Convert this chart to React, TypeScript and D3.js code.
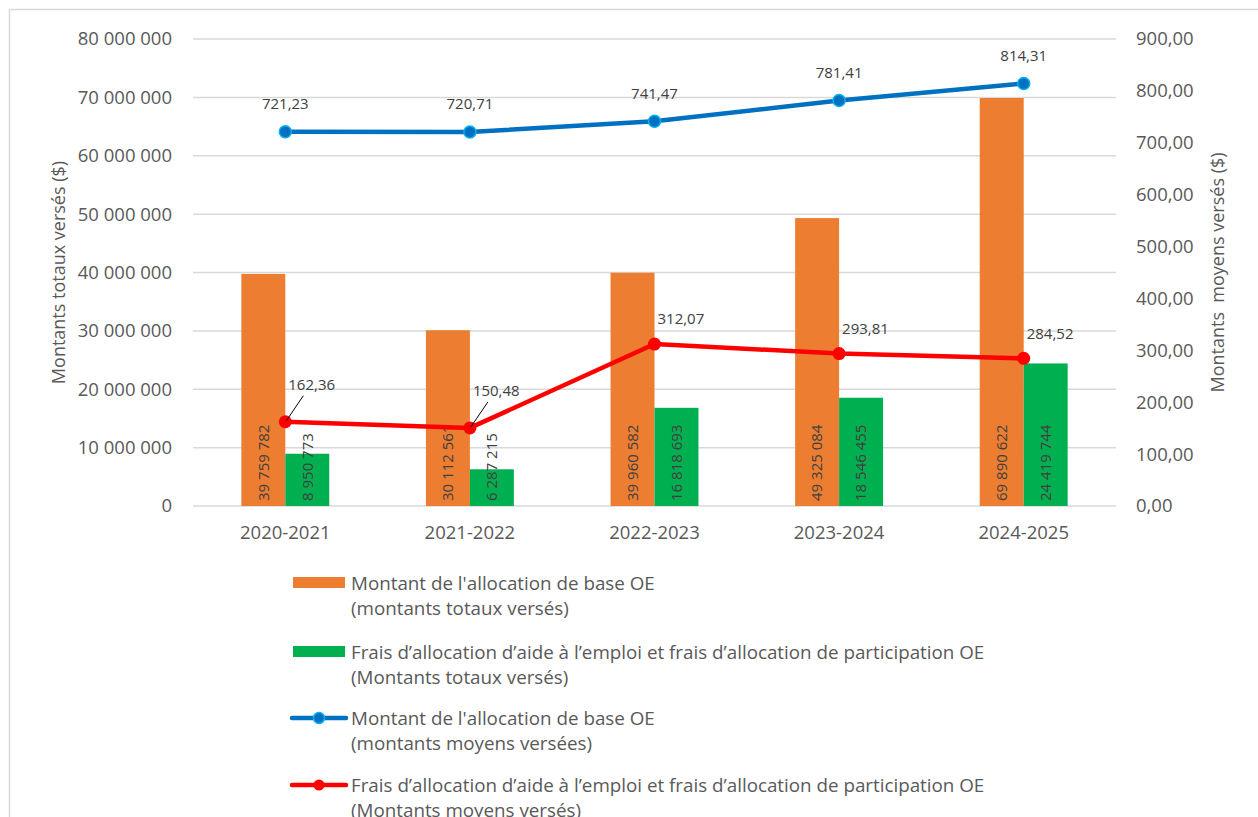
import React, { useEffect, useRef } from 'react';
import * as d3 from 'd3';

const years = ['2020-2021', '2021-2022', '2022-2023', '2023-2024', '2024-2025'];
const baseTotals = [39759782, 30112561, 39960582, 49325084, 69890622];
const fraisTotals = [8950773, 6287215, 16818693, 18546455, 24419744];
const baseMoyens = [721.23, 720.71, 741.47, 781.41, 814.31];
const fraisMoyens = [162.36, 150.48, 312.07, 293.81, 284.52];
const leftTicks = [0, 10e6, 20e6, 30e6, 40e6, 50e6, 60e6, 70e6, 80e6];
const rightTicks = [0, 100, 200, 300, 400, 500, 600, 700, 800, 900];
// labels for the first two red points sit higher, with a leader line
const redLabelLift = [37, 37, 25, 25, 25];

const legendItems = [
    { kind: 'bar', color: '#ed7d31', lines: ["Montant de l'allocation de base OE", '(montants totaux versés)'] },
    { kind: 'bar', color: '#00b050', lines: ['Frais d’allocation d’aide à l’emploi et frais d’allocation de participation OE', '(Montants totaux versés)'] },
    { kind: 'blue', color: '#0070c0', lines: ["Montant de l'allocation de base OE", '(montants moyens versées)'] },
    { kind: 'red', color: '#ff0000', lines: ['Frais d’allocation d’aide à l’emploi et frais d’allocation de participation OE', '(Montants moyens versés)'] },
];

const locale = d3.formatLocale({ decimal: ',', thousands: ' ', grouping: [3], currency: ['', '$'] });
const fmtInt = locale.format(',d');
const fmtDec = locale.format(',.2f');

const FONT = '"Open Sans", Lato, sans-serif';
const GREY = '#595959';
const LABEL = '#404040';
const FS = 18.5;   // axis + legend text
const FL = 15;     // data labels

const App = () => {
    const ref = useRef(null);
    const width = 1258, height = 817;
    const left = 193, right = 1116, top = 39, bottom = 506;

    useEffect(() => {
        const svg = d3.select(ref.current);
        svg.selectAll('*').remove();

        const x = d3.scaleBand().domain(years).range([left, right]);
        const xs = d3.scaleBand().domain(['base', 'frais']).range([0, x.bandwidth()]).paddingOuter(1.1);
        const yL = d3.scaleLinear().domain([0, 80e6]).range([bottom, top]);
        const yR = d3.scaleLinear().domain([0, 900]).range([bottom, top]);
        const cx = d => x(d) + x.bandwidth() / 2;

        // chart frame
        svg.append('rect').attr('x', 9.5).attr('y', 9.5).attr('width', width + 10).attr('height', height + 10)
            .attr('fill', '#fff').attr('stroke', '#d9d9d9').attr('stroke-width', 1.5);

        // grid
        svg.append('g').selectAll('line').data(leftTicks).join('line')
            .attr('x1', left).attr('x2', right)
            .attr('y1', d => yL(d)).attr('y2', d => yL(d))
            .attr('stroke', '#d9d9d9').attr('stroke-width', 1.5);

        // left ticks
        svg.append('g').selectAll('text').data(leftTicks).join('text')
            .attr('x', 172).attr('y', d => yL(d)).attr('dy', '0.35em')
            .attr('text-anchor', 'end').attr('font-size', FS).attr('font-family', FONT).attr('fill', GREY)
            .text(d => fmtInt(d));

        // right ticks
        svg.append('g').selectAll('text').data(rightTicks).join('text')
            .attr('x', 1136).attr('y', d => yR(d)).attr('dy', '0.35em')
            .attr('font-size', FS).attr('font-family', FONT).attr('fill', GREY)
            .text(d => fmtDec(d));

        // category labels
        svg.append('g').selectAll('text').data(years).join('text')
            .attr('x', d => cx(d)).attr('y', 533).attr('dy', '0.35em')
            .attr('text-anchor', 'middle').attr('font-size', FS).attr('font-family', FONT).attr('fill', GREY)
            .text(d => d);

        // axis titles
        svg.append('text')
            .attr('transform', `translate(59 ${(top + bottom) / 2}) rotate(-90)`)
            .attr('text-anchor', 'middle').attr('dy', '0.35em')
            .attr('font-size', 18).attr('font-family', FONT).attr('fill', GREY)
            .text('Montants totaux versés ($)');
        svg.append('text')
            .attr('transform', `translate(1218 ${(top + bottom) / 2}) rotate(-90)`)
            .attr('text-anchor', 'middle').attr('dy', '0.35em')
            .attr('font-size', 18).attr('font-family', FONT).attr('fill', GREY)
            .style('white-space', 'pre')
            .text('Montants  moyens versés ($)');

        // bars
        const series = [
            { key: 'base', values: baseTotals, color: '#ed7d31' },
            { key: 'frais', values: fraisTotals, color: '#00b050' },
        ];
        series.forEach(s => {
            const g = svg.append('g');
            g.selectAll('rect').data(s.values).join('rect')
                .attr('x', (d, i) => x(years[i]) + xs(s.key))
                .attr('y', d => yL(d))
                .attr('width', xs.bandwidth())
                .attr('height', d => bottom - yL(d))
                .attr('fill', s.color);
            g.selectAll('text').data(s.values).join('text')
                .attr('transform', (d, i) => `translate(${x(years[i]) + xs(s.key) + xs.bandwidth() / 2} ${bottom - 5}) rotate(-90)`)
                .attr('dy', '0.35em')
                .attr('font-size', FL).attr('font-family', FONT).attr('fill', LABEL)
                .text(d => fmtInt(d));
        });

        // lines
        const line = d3.line().x((d, i) => cx(years[i])).y(d => yR(d));
        svg.append('path').attr('d', line(baseMoyens)).attr('fill', 'none')
            .attr('stroke', '#0070c0').attr('stroke-width', 4.5).attr('stroke-linejoin', 'round');
        svg.append('g').selectAll('circle').data(baseMoyens).join('circle')
            .attr('cx', (d, i) => cx(years[i])).attr('cy', d => yR(d)).attr('r', 6)
            .attr('fill', '#0070c0').attr('stroke', '#00b0f0').attr('stroke-width', 1.5);
        svg.append('g').selectAll('text').data(baseMoyens).join('text')
            .attr('x', (d, i) => cx(years[i])).attr('y', d => yR(d) - 28).attr('dy', '0.35em')
            .attr('text-anchor', 'middle').attr('font-size', FL).attr('font-family', FONT).attr('fill', LABEL)
            .text(d => fmtDec(d));

        svg.append('path').attr('d', line(fraisMoyens)).attr('fill', 'none')
            .attr('stroke', '#ff0000').attr('stroke-width', 4.5).attr('stroke-linejoin', 'round');
        svg.append('g').selectAll('circle').data(fraisMoyens).join('circle')
            .attr('cx', (d, i) => cx(years[i])).attr('cy', d => yR(d)).attr('r', 6.5)
            .attr('fill', '#ff0000');
        // leader lines
        svg.append('g').selectAll('line').data(fraisMoyens.filter((d, i) => redLabelLift[i] > 30)).join('line')
            .attr('x1', (d, i) => cx(years[i]) + 1).attr('y1', d => yR(d) - 1)
            .attr('x2', (d, i) => cx(years[i]) + 18).attr('y2', d => yR(d) - 26)
            .attr('stroke', '#000').attr('stroke-width', 1);
        svg.append('g').selectAll('text').data(fraisMoyens).join('text')
            .attr('x', (d, i) => cx(years[i]) + 3).attr('y', (d, i) => yR(d) - redLabelLift[i]).attr('dy', '0.35em')
            .attr('font-size', FL).attr('font-family', FONT).attr('fill', LABEL)
            .text(d => fmtDec(d));

        // legend
        const lg = svg.append('g');
        const rowY = [583, 652, 718, 785];
        legendItems.forEach((item, i) => {
            const y = rowY[i];
            if (item.kind === 'bar') {
                lg.append('rect').attr('x', 293).attr('y', y - 6).attr('width', 52).attr('height', 11).attr('fill', item.color);
            } else {
                lg.append('line').attr('x1', 292).attr('x2', 346).attr('y1', y).attr('y2', y)
                    .attr('stroke', item.color).attr('stroke-width', 4.5).attr('stroke-linecap', 'round');
                lg.append('circle').attr('cx', 319).attr('cy', y).attr('r', 5.5)
                    .attr('fill', item.kind === 'blue' ? '#0070c0' : '#ff0000')
                    .attr('stroke', item.kind === 'blue' ? '#00b0f0' : 'none').attr('stroke-width', 1.5);
            }
            item.lines.forEach((t, j) => {
                lg.append('text').attr('x', 351).attr('y', y + j * 25).attr('dy', '0.35em')
                    .attr('font-size', 18.8).attr('font-family', FONT).attr('fill', GREY)
                    .text(t);
            });
        });
    }, []);

    return (
        <svg ref={ref} width={width} height={height}
            style={{ position: 'absolute', left: 0, top: 0, background: '#fff' }} />
    );
};

export default App;
